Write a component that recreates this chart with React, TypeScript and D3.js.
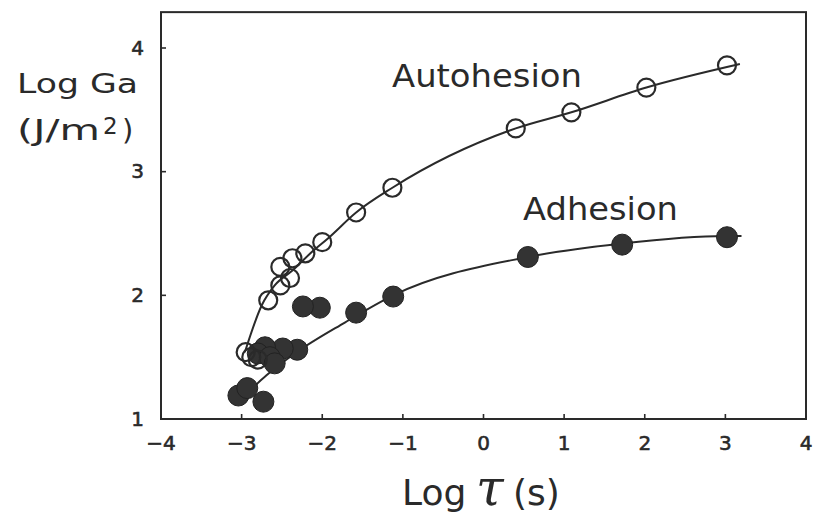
import React from "react";
import * as d3 from "d3";

// ---- Data ----
const autoX = [3.02, 2.02, 1.09, 0.4, -1.13, -1.58, -2.0, -2.21, -2.37, -2.52, -2.4, -2.52, -2.67, -2.95, -2.88, -2.8];
const autoY = [3.86, 3.68, 3.48, 3.35, 2.87, 2.67, 2.43, 2.34, 2.3, 2.23, 2.14, 2.08, 1.96, 1.54, 1.5, 1.48];

const adhX = [3.02, 1.72, 0.55, -1.12, -1.58, -2.03, -2.24, -2.31, -2.49, -2.71, -2.8, -2.65, -2.59, -3.04, -2.93, -2.73];
const adhY = [2.47, 2.41, 2.31, 1.99, 1.86, 1.9, 1.91, 1.56, 1.57, 1.58, 1.53, 1.5, 1.45, 1.19, 1.25, 1.14];

// fitted curves (knots)
const autoCurveX = [-2.96, -2.75, -2.59, -2.37, -2.13, -1.93, -1.58, -1.13, 0.4, 1.09, 2.02, 3.18];
const autoCurveY = [1.54, 1.92, 2.08, 2.2, 2.35, 2.46, 2.67, 2.87, 3.35, 3.48, 3.68, 3.87];

const adhCurveX = [-2.95, -2.8, -2.68, -2.34, -1.72, -1.12, 0.55, 1.72, 3.0, 3.2];
const adhCurveY = [1.17, 1.29, 1.36, 1.53, 1.78, 2.0, 2.31, 2.42, 2.48, 2.48];

const xTicks = [-4, -3, -2, -1, 0, 1, 2, 3, 4];
const yTicks = [1, 2, 3, 4];

const X_DOMAIN = [-4, 4];
const Y_DOMAIN = [1, 4];
const Y_TOP = 4.29;

const W = 816;
const H = 527;
const INK = "#2a2a2a";
const FONT = "'DejaVu Sans', 'Noto Sans', sans-serif";

export default function App() {
  const x = d3.scaleLinear().domain(X_DOMAIN).range([161, 806]);
  const y = d3.scaleLinear().domain(Y_DOMAIN).range([419, 48]);

  const line = d3
    .line<[number, number]>()
    .x((d) => x(d[0]))
    .y((d) => y(d[1]))
    .curve(d3.curveMonotoneX);

  const autoCurve = autoCurveX.map((v, i) => [v, autoCurveY[i]] as [number, number]);
  const adhCurve = adhCurveX.map((v, i) => [v, adhCurveY[i]] as [number, number]);

  const left = x(X_DOMAIN[0]);
  const right = x(X_DOMAIN[1]);
  const bottom = y(Y_DOMAIN[0]);
  const top = y(Y_TOP);

  return (
    <svg
      width={W}
      height={H}
      viewBox={`0 0 ${W} ${H}`}
      style={{ position: "absolute", left: 0, top: 0, background: "#fff" }}
    >
      <rect x={0} y={0} width={W} height={H} fill="#fff" />
      {/* frame */}
      <rect
        x={left}
        y={top}
        width={right - left}
        height={bottom - top}
        fill="none"
        stroke={INK}
        strokeWidth={2}
      />
      {/* x ticks */}
      {xTicks.map((t) => (
        <g key={"xt" + t}>
          <line x1={x(t)} x2={x(t)} y1={bottom} y2={bottom - 5} stroke={INK} strokeWidth={1.6} />
          <text
            x={x(t)}
            y={450}
            textAnchor="middle"
            fontFamily={FONT}
            fontSize={20}
            fill={INK}
            stroke={INK}
            strokeWidth={0.6}
          >
            {t < 0 ? "\u2212" + Math.abs(t) : String(t)}
          </text>
        </g>
      ))}
      {/* y ticks */}
      {yTicks.map((t) => (
        <g key={"yt" + t}>
          <line x1={left} x2={left + 5} y1={y(t)} y2={y(t)} stroke={INK} strokeWidth={1.6} />
          <text
            x={144}
            y={y(t) + 1}
            textAnchor="end"
            dominantBaseline="middle"
            fontFamily={FONT}
            fontSize={20}
            fill={INK}
            stroke={INK}
            strokeWidth={0.6}
          >
            {t}
          </text>
        </g>
      ))}

      {/* curves */}
      <path d={line(autoCurve) || ""} fill="none" stroke={INK} strokeWidth={2} />
      <path d={line(adhCurve) || ""} fill="none" stroke={INK} strokeWidth={2} />

      {/* adhesion points (filled) */}
      {adhX.map((v, i) => (
        <circle key={"ad" + i} cx={x(v)} cy={y(adhY[i])} r={10.5} fill="#333" stroke="#222" strokeWidth={1} />
      ))}
      {/* autohesion points (open) */}
      {autoX.map((v, i) => (
        <circle key={"au" + i} cx={x(v)} cy={y(autoY[i])} r={9} fill="none" stroke={INK} strokeWidth={2.2} />
      ))}

      {/* series labels */}
      <text x={392} y={87} fontFamily={FONT} fontSize={32} fill={INK} textLength={190} lengthAdjust="spacingAndGlyphs">
        Autohesion
      </text>
      <text x={523} y={220} fontFamily={FONT} fontSize={32} fill={INK} textLength={155} lengthAdjust="spacingAndGlyphs">
        Adhesion
      </text>

      {/* y title */}
      <text x={17} y={93} fontFamily={FONT} fontSize={27} fill={INK} textLength={121} lengthAdjust="spacingAndGlyphs">
        Log Ga
      </text>
      <text y={140} fontFamily={FONT} fontSize={29} fill={INK}>
        <tspan x={17} textLength={83} lengthAdjust="spacingAndGlyphs">(J/m</tspan>
        <tspan x={103} fontSize={23} dy={-6}>2</tspan>
        <tspan x={122} dy={6}>)</tspan>
      </text>

      {/* x title */}
      <text y={505} fontFamily={FONT} fontSize={36} fill={INK}>
        <tspan x={402}>Log</tspan>
        <tspan x={476} fontFamily="'DejaVu Serif', serif" fontStyle="italic" fontSize={50}>τ</tspan>
        <tspan x={513}>(s)</tspan>
      </text>
    </svg>
  );
}
